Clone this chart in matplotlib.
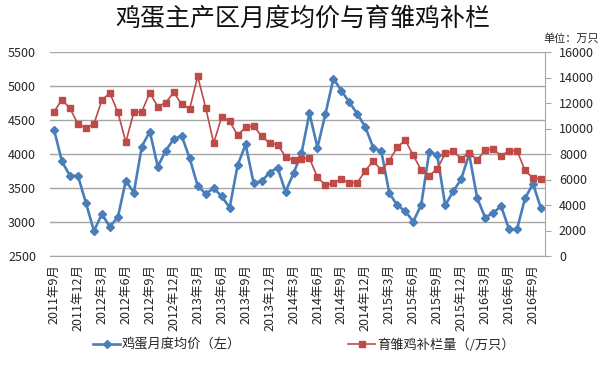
import matplotlib.pyplot as plt

plt.rcParams['font.family'] = ['Noto Sans CJK SC', 'DejaVu Sans']

# monthly data, 2011-09 .. 2016-10
egg_price = [4360, 3890, 3680, 3680, 3280, 2870, 3115, 2930, 3070, 3610,
             3430, 4110, 4330, 3815, 4050, 4220, 4265, 3935, 3530, 3415,
             3495, 3380, 3210, 3835, 4140, 3575, 3600, 3725, 3800, 3445,
             3715, 4010, 4600, 4095, 4590, 5110, 4930, 4760, 4590, 4395,
             4090, 4040, 3425, 3245, 3160, 3005, 3255, 4035, 3985, 3245,
             3450, 3630, 4000, 3355, 3065, 3130, 3235, 2890, 2895, 3350,
             3560, 3200]
chick_stock = [11320, 12260, 11580, 10350, 10040, 10350, 12240, 12780, 11270, 8940,
               11270, 11320, 12810, 11710, 12030, 12840, 11890, 11560, 14090, 11630,
               8860, 10900, 10560, 9490, 10090, 10200, 9410, 8860, 8740, 7790,
               7520, 7640, 7650, 6190, 5540, 5720, 6020, 5760, 5760, 6690,
               7470, 6710, 7490, 8530, 9080, 7900, 6730, 6310, 6830, 8040,
               8250, 7620, 8100, 7520, 8300, 8400, 7850, 8260, 8260, 6710,
               6100, 6050]
tick_labels = ["2011年9月", "2011年12月", "2012年3月", "2012年6月", "2012年9月",
               "2012年12月", "2013年3月", "2013年6月", "2013年9月", "2013年12月",
               "2014年3月", "2014年6月", "2014年9月", "2014年12月", "2015年3月",
               "2015年6月", "2015年9月", "2015年12月", "2016年3月", "2016年6月",
               "2016年9月"]

grey = '#A6A6A6'
txt = '#262626'

fig = plt.figure(figsize=(6.11, 3.77), dpi=100)
ax = fig.add_axes([50 / 611, 1 - 256 / 377, 495 / 611, 204 / 377])
ax2 = ax.twinx()

x = list(range(len(egg_price)))
l1, = ax.plot(x, egg_price, color='#4A7EBB', lw=1.9, marker='D', ms=4.5,
              label='鸡蛋月度均价（左）')
l2, = ax2.plot(x, chick_stock, color='#BE4B48', lw=1.2, marker='s', ms=4.5,
               label='育雏鸡补栏量（/万只）')

ax.set_xlim(-0.5, len(x) - 0.5)
ax.set_ylim(2500, 5500)
ax.set_yticks(range(2500, 5501, 500))
ax2.set_ylim(0, 16000)
ax2.set_yticks(range(0, 16001, 2000))

ax.set_xticks(range(0, len(x), 3))
ax.set_xticklabels(tick_labels, rotation=90)

ax.grid(axis='y', color=grey, lw=1)
ax.set_axisbelow(True)

for s in ['left', 'top', 'right']:
    ax.spines[s].set_visible(False)
ax.spines['bottom'].set_color(grey)
for s in ['left', 'top', 'bottom']:
    ax2.spines[s].set_visible(False)
ax2.spines['right'].set_color(grey)

ax.tick_params(axis='y', length=0, pad=10, labelsize=9, labelcolor=txt)
ax.tick_params(axis='x', length=0, pad=6, labelsize=9, labelcolor=txt)
ax2.tick_params(axis='y', length=4, color=grey, pad=6, labelsize=9, labelcolor=txt)

fig.text(303 / 611, 1 - 19 / 377, '鸡蛋主产区月度均价与育雏鸡补栏',
         ha='center', va='center', fontsize=18, fontweight='medium', color='#111111')
fig.text(543 / 611, 1 - 38 / 377, '单位：万只', ha='left', va='center',
         fontsize=8, color=txt)

fig.legend(handles=[l1, l2], loc='center left', bbox_to_anchor=(93 / 611, 1 - 345 / 377),
           ncol=2, frameon=False, fontsize=9.5, handlelength=2.05, handletextpad=0.15,
           columnspacing=8.1, borderpad=0, borderaxespad=0, labelcolor=txt)

fig.savefig('out.png', dpi=100)
